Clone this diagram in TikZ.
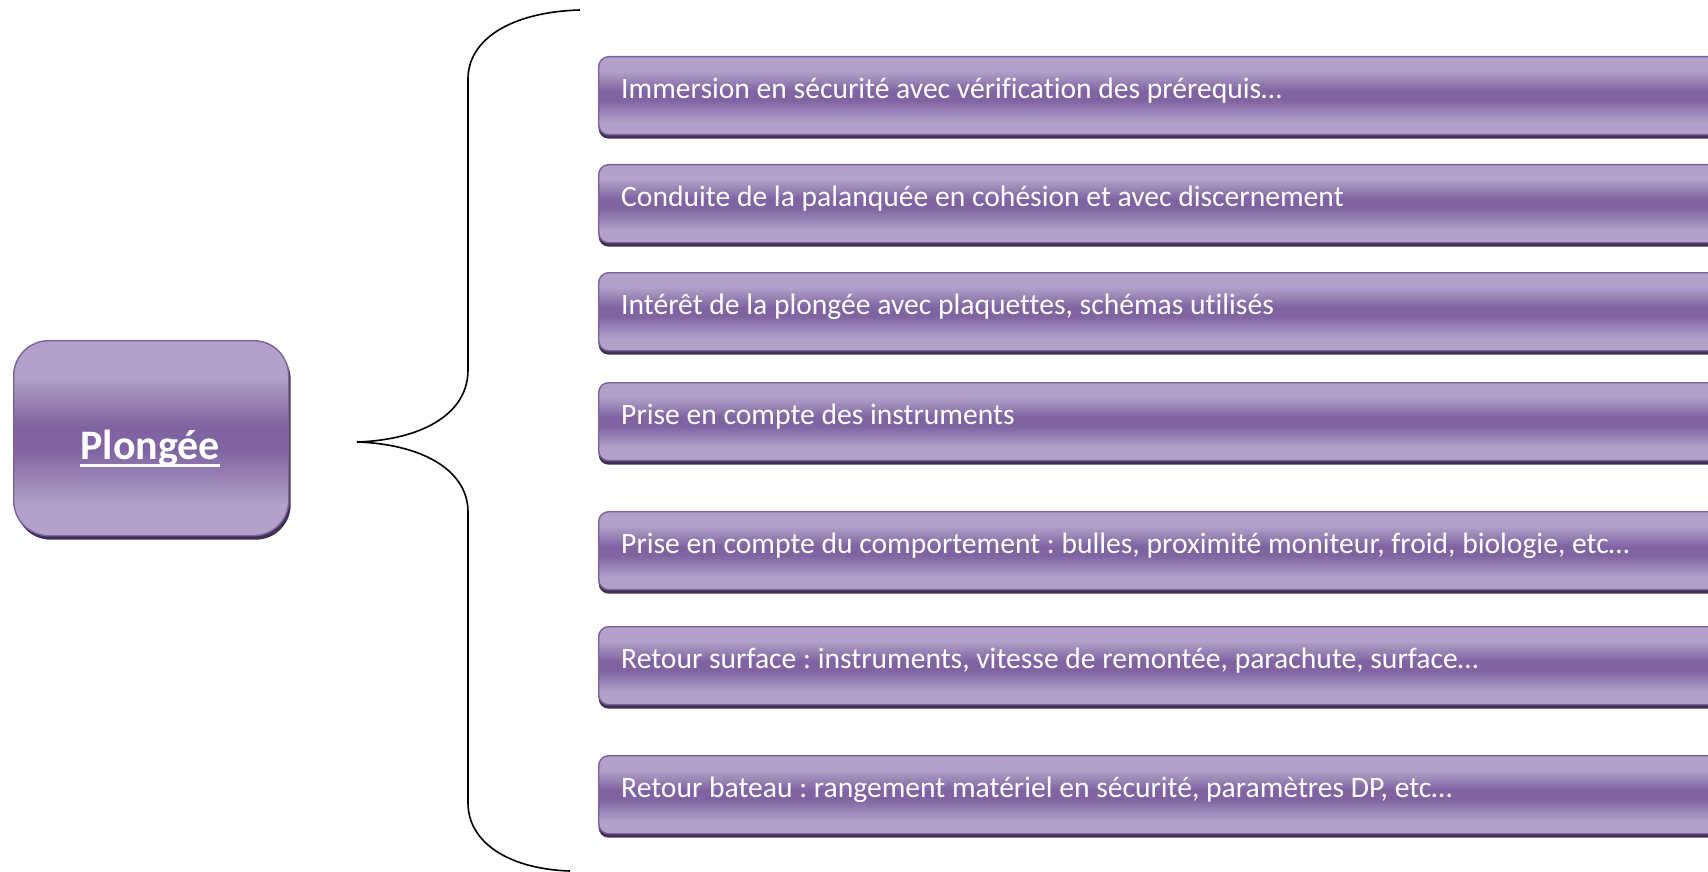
\documentclass[tikz,border=0pt]{standalone}
\usepackage{fontspec}
\setmainfont[Ligatures={NoCommon}]{Carlito}
\usetikzlibrary{shadows}
\definecolor{plight}{RGB}{178,162,201}
\definecolor{pdark}{RGB}{128,100,162}
\definecolor{pborder}{RGB}{124,96,158}
\definecolor{pshadow}{RGB}{64,49,82}
\pgfdeclareverticalshading{barshade}{100bp}{color(0bp)=(plight); color(33bp)=(plight); color(47bp)=(pdark); color(53bp)=(pdark); color(66bp)=(plight); color(100bp)=(plight)}
\tikzset{
  barbox/.style={shape=rectangle, rounded corners=10pt, shading=barshade, draw=pborder, line width=1.4pt,
    minimum width=1150pt, minimum height=78pt, inner sep=0pt, anchor=north west,
    drop shadow={shadow xshift=0pt, shadow yshift=-4pt, opacity=1, fill=pshadow, shadow scale=1}},
  bartext/.style={anchor=base west, inner sep=0pt, text=white, font=\fontsize{29.6}{35}\selectfont},
  mainbox/.style={shape=rectangle, rounded corners=35pt, shading=barshade, draw=pborder, line width=1.4pt,
    minimum width=275pt, minimum height=195pt, inner sep=0pt, anchor=north west,
    drop shadow={shadow xshift=2pt, shadow yshift=-4pt, opacity=1, fill=pshadow, shadow scale=1}},
  maintext/.style={anchor=base, inner sep=0pt, text=white, font=\fontsize{42}{50}\selectfont\bfseries},
  bracepath/.style={draw=black, line width=1.6pt}
}
\frenchspacing
\begin{document}
\begin{tikzpicture}[x=1pt,y=-1pt]
\useasboundingbox (0,0) rectangle (1708,872);
\clip (0,0) rectangle (1708,872);
\fill[white] (0,0) rectangle (1708,872);
% main box
\node[mainbox] (main) at (13,340) {};
\node[maintext] (maint) at ([xshift=-1pt,yshift=-21.5pt]main.center) {Plongée};
\draw[white, line width=3.5pt] ([yshift=-6pt]maint.base west) -- ([yshift=-6pt]maint.base east);
% brace
\coordinate (btop) at (580,10);
\coordinate (bup1) at (468,79);
\coordinate (bup2) at (468,370);
\coordinate (btip) at (357,442);
\coordinate (blo1) at (468,512);
\coordinate (blo2) at (468,803);
\coordinate (bbot) at (570,871);
\draw[bracepath] (btop) .. controls (510,12) and (468,40) .. (bup1) -- (bup2)
  .. controls (468,415) and (420,440) .. (btip)
  .. controls (420,444) and (468,469) .. (blo1) -- (blo2)
  .. controls (468,842) and (508,869) .. (bbot);
% bars
\node[barbox] (b1) at (598,56) {};
\node[barbox] (b2) at (598,164) {};
\node[barbox] (b3) at (598,272) {};
\node[barbox] (b4) at (598,382) {};
\node[barbox] (b5) at (598,511) {};
\node[barbox] (b6) at (598,626) {};
\node[barbox] (b7) at (598,755) {};
\node[bartext] (t1) at ([xshift=23pt,yshift=-3pt]b1.west) {Immersion en sécurité avec vérification des prérequis…};
\node[bartext] (t2) at ([xshift=23pt,yshift=-3pt]b2.west) {Conduite de la palanquée en cohésion et avec discernement};
\node[bartext] (t3) at ([xshift=23pt,yshift=-3pt]b3.west) {Intérêt de la plongée avec plaquettes, schémas utilisés};
\node[bartext] (t4) at ([xshift=23pt,yshift=-3pt]b4.west) {Prise en compte des instruments};
\node[bartext] (t5) at ([xshift=23pt,yshift=-3pt]b5.west) {Prise en compte du comportement : bulles, proximité moniteur, froid, biologie, etc…};
\node[bartext] (t6) at ([xshift=23pt,yshift=-3pt]b6.west) {Retour surface : instruments, vitesse de remontée, parachute, surface…};
\node[bartext] (t7) at ([xshift=23pt,yshift=-3pt]b7.west) {Retour bateau : rangement matériel en sécurité, paramètres DP, etc…};
\end{tikzpicture}
\end{document}
